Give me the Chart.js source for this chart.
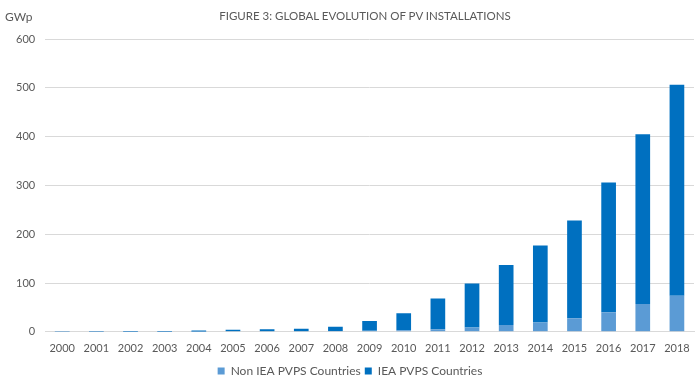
<!DOCTYPE html>
<html><head><meta charset="utf-8">
<script src="https://cdn.jsdelivr.net/npm/chart.js@4/dist/chart.umd.min.js"></script>
<style>
html,body{margin:0;padding:0;background:#fff;}
#wrap{position:relative;width:700px;height:383px;}
#unit{position:absolute;left:5px;top:9px;font:12px Lato, "Open Sans", sans-serif;color:#595959;}
#title{position:absolute;left:365px;top:9px;transform:translateX(-50%);white-space:nowrap;font:11.5px Lato, "Open Sans", sans-serif;color:#595959;}
</style></head>
<body>
<div id="wrap"><div id="unit">GWp</div><div id="title">FIGURE 3: GLOBAL EVOLUTION OF PV INSTALLATIONS</div><canvas id="c" width="700" height="383"></canvas></div>
<script>
const years = ["2000","2001","2002","2003","2004","2005","2006","2007","2008","2009","2010","2011","2012","2013","2014","2015","2016","2017","2018"];
const nonIEA = [0.1,0.1,0.2,0.2,0.3,1,1,1,1.5,2,3,5,9,14,19,28,40,57,74];
const iea    = [0.7,1,1.3,1.6,2.2,3,4,5,9,20,35,63,90,123,158,200,266,348,432];
const yTicks = [0,100,200,300,400,500,600];

new Chart(document.getElementById('c'), {
  type: 'bar',
  data: {
    labels: years,
    datasets: [
      {label: 'Non IEA PVPS Countries', data: nonIEA, backgroundColor: '#5B9BD5', barPercentage: 0.43, categoryPercentage: 1},
      {label: 'IEA PVPS Countries', data: iea, backgroundColor: '#0070C0', barPercentage: 0.43, categoryPercentage: 1}
    ]
  },
  options: {
    responsive: false,
    animation: false,
    layout: {padding: {left: 6, right: 6, top: 39, bottom: -4}},
    plugins: {
      title: {display: false},
      legend: {position: 'bottom', labels: {boxWidth: 7, boxHeight: 7, color: '#595959', font: {family: 'Lato', size: 12}, padding: 4}},
      tooltip: {enabled: false}
    },
    scales: {
      x: {stacked: true, grid: {display: false}, border: {color: '#d9d9d9'},
          afterFit: (s) => { s.height += 4; },
          ticks: {color: '#595959', font: {family: 'Lato', size: 11}, maxRotation: 0, autoSkip: false, padding: 2}},
      y: {stacked: true, min: 0, max: 600, border: {display: false},
          grid: {color: '#d9d9d9', drawTicks: false},
          afterBuildTicks: (s) => { s.ticks = yTicks.map(v => ({value: v})); },
          ticks: {color: '#595959', font: {family: 'Lato', size: 11}, padding: 10}}
    }
  }
});
</script>
</body></html>
